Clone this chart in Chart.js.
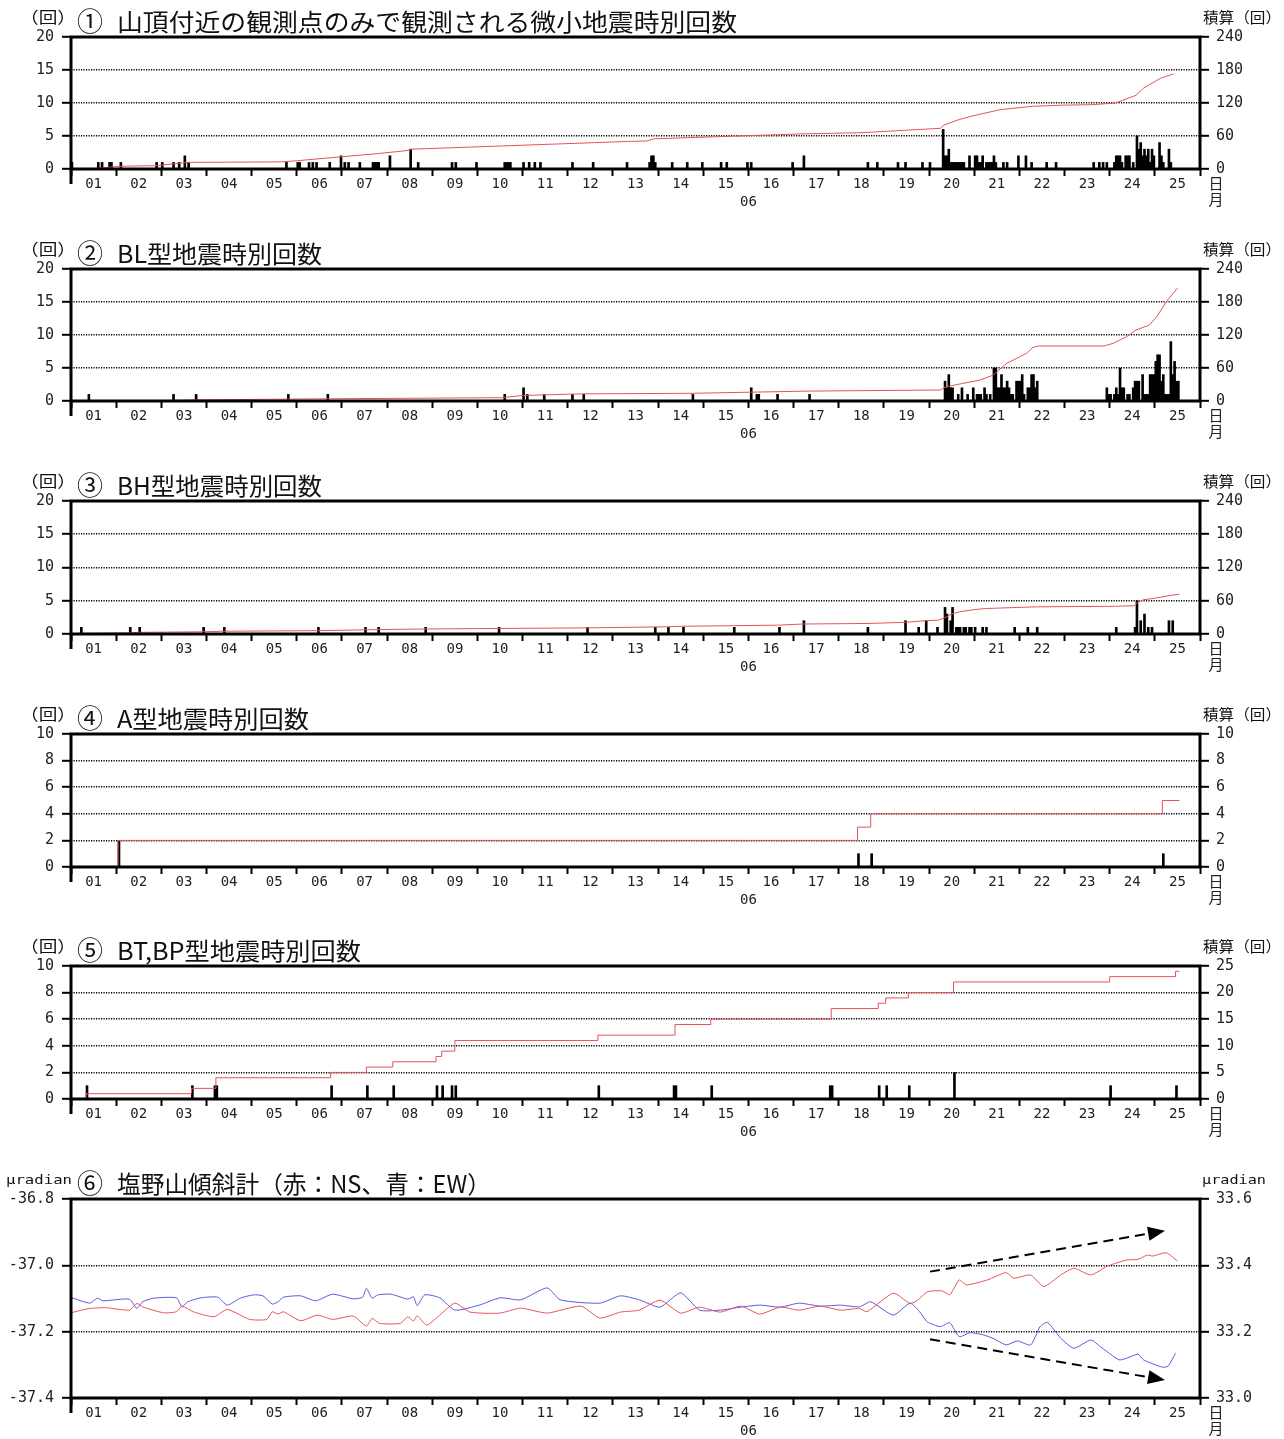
<!DOCTYPE html>
<html>
<head>
<meta charset="utf-8">
<script src="https://cdn.jsdelivr.net/npm/chart.js@4.4.1/dist/chart.umd.min.js"></script>
<style>
  html, body { margin: 0; padding: 0; background: #fff; }
  body { position: relative; width: 1284px; height: 1439px; overflow: hidden; font-family: "Noto Sans CJK JP", sans-serif; }
  canvas { position: absolute; left: 0; }
  .lbl { position: absolute; white-space: nowrap; color: #111; }
</style>
</head>
<body>
<script>
// ---- axis labels -------------------------------------------------------
const DAY_LABELS = ['01','02','03','04','05','06','07','08','09','10','11','12','13',
                    '14','15','16','17','18','19','20','21','22','23','24','25'];
const MONTH_LABEL = '06';
const MONTH_LABEL_HOUR = 360;

const TITLES = ['山頂付近の観測点のみで観測される微小地震時別回数', 'BL型地震時別回数', 'BH型地震時別回数',
                'A型地震時別回数', 'BT,BP型地震時別回数', '塩野山傾斜計（赤：NS、青：EW）'];
const TITLE_NUMS = ['①','②','③','④','⑤','⑥'];

const COUNT_TICKS_20 = [0, 5, 10, 15, 20];
const CUM_TICKS_240 = [0, 60, 120, 180, 240];
const COUNT_TICKS_10 = [0, 2, 4, 6, 8, 10];
const CUM_TICKS_10 = [0, 2, 4, 6, 8, 10];
const CUM_TICKS_25 = [0, 5, 10, 15, 20, 25];
const TILT_NS_TICKS = [-37.4, -37.2, -37.0, -36.8];
const TILT_EW_TICKS = [33.0, 33.2, 33.4, 33.6];

// ---- hourly counts: [hour since 1st 00:00, count] --------------------
const summitHourly = [
  [0,1],[14,1],[16,1],[20,1],[21,1],[26,1],[45,1],[48,1],[54,1],[57,1],[60,2],[62,1],
  [114,1],[120,1],[121,1],[126,1],[128,1],[130,1],[137,1],[143,2],[145,1],[147,1],[153,1],
  [160,1],[161,1],[162,1],[163,1],[169,2],[180,3],[184,1],[202,1],[204,1],[215,1],
  [230,1],[231,1],[232,1],[233,1],[240,1],[243,1],[246,1],[249,1],[266,1],[277,1],[295,1],
  [307,1],[308,2],[309,2],[310,1],[319,1],[327,1],[335,1],[345,1],[348,1],[359,1],[361,1],
  [383,1],[389,2],[423,1],[428,1],[439,1],[443,1],[452,1],[456,1],
  [463,6],[464,2],[465,2],[466,3],[467,1],[468,1],[469,1],[470,1],[471,1],[472,1],[473,1],[474,1],
  [477,2],[480,2],[481,2],[482,1],[483,1],[484,2],[486,1],[487,1],[488,1],[489,1],[490,2],[491,1],
  [495,1],[497,1],[503,2],[507,2],[510,1],[518,1],[523,1],
  [543,1],[546,1],[548,1],[550,1],[554,1],[555,2],[556,2],[557,2],[558,1],[560,2],[561,2],[562,2],
  [564,1],[566,5],[567,3],[568,4],[569,2],[570,3],[571,2],[572,3],[573,1],[574,3],[575,2],
  [578,4],[579,2],[580,1],[583,3],[584,1]
];
const summitTotal = [
  [0,0],[14,1],[26,5],[45,6],[62,12],[112,13],[120,15],[143,22],[163,28],[180,34],[181,36],
  [230,42],[295,50],[306,51],[310,55],[390,64],[420,66],[462,74],[464,80],[472,90],[481,98],
  [494,108],[511,114],[526,116],[543,117],[555,120],[566,134],[570,147],[579,165],[586,173]
];

const blHourly = [
  [9,1],[54,1],[66,1],[115,1],[136,1],[230,1],[240,2],[242,1],[251,1],[266,1],[272,1],
  [330,1],[361,2],[364,1],[365,1],[375,1],[392,1],
  [464,3],[465,2],[466,4],[467,2],[468,2],[471,1],[473,2],[476,1],[479,2],[481,1],[482,1],[483,1],
  [485,2],[486,1],[488,1],[490,5],[491,5],[492,2],[493,2],[494,4],[495,2],[496,2],[497,3],[498,2],
  [499,1],[500,1],[502,3],[503,3],[504,3],[505,4],[506,1],[508,2],[509,2],[510,4],[511,4],[512,2],[513,3],
  [550,2],[551,1],[552,1],[554,1],[555,2],[556,1],[557,5],[558,2],[559,2],[561,1],[562,1],
  [564,2],[565,3],[566,3],[567,3],[569,4],[570,1],[571,1],[572,1],[573,4],[574,4],[575,4],
  [576,6],[577,7],[578,7],[579,3],[580,4],[581,1],[582,1],[583,1],[584,9],[585,4],[586,6],[587,3],[588,3]
];
const blTotal = [
  [0,0],[53,1],[66,2],[135,4],[229,6],[240,10],[271,13],[330,14],[361,16],[392,18],[462,20],
  [465,26],[474,32],[483,38],[490,47],[497,68],[504,80],[508,87],[511,97],[514,100],[549,100],
  [554,105],[561,117],[566,129],[573,138],[577,153],[582,180],[588,205]
];

const bhHourly = [
  [5,1],[31,1],[36,1],[70,1],[81,1],[131,1],[156,1],[163,1],[188,1],[227,1],[274,1],
  [310,1],[317,1],[325,1],[352,1],[376,1],[389,2],[423,1],[443,2],[450,1],[454,2],[460,1],
  [464,4],[465,3],[467,2],[468,4],[470,1],[471,1],[472,1],[474,1],[475,1],[477,1],[478,1],[480,1],
  [484,1],[486,1],[501,1],[508,1],[513,1],[555,1],[565,1],[566,5],[568,2],[570,3],[572,1],[574,1],
  [583,2],[585,2]
];
const bhTotal = [
  [0,0],[5,1],[31,2],[36,3],[70,4],[81,5],[131,6],[163,8],[188,9],[227,10],[274,11],[317,13],
  [325,14],[352,15],[376,16],[389,18],[423,19],[443,21],[454,24],[461,25],[464,29],[468,36],
  [472,40],[480,44],[486,46],[513,49],[555,50],[565,51],[567,57],[570,62],[575,64],[585,70],[589,72]
];

const aHourly = [[25,2],[418,1],[425,1],[580,1]];
const aTotal = [[0,0],[25,2],[418,3],[425,4],[580,5],[589,5]];

const btbpHourly = [
  [8,1],[64,1],[76,1],[77,1],[138,1],[157,1],[171,1],[194,1],[197,1],[202,1],[204,1],
  [280,1],[320,1],[321,1],[340,1],[403,1],[404,1],[429,1],[433,1],[445,1],[469,2],[552,1],[587,1]
];
const btbpTotal = [
  [0,0],[8,1],[64,2],[77,4],[138,5],[157,6],[171,7],[194,8],[197,9],[204,11],[280,12],[321,14],
  [340,15],[404,17],[429,18],[433,19],[445,20],[469,22],[552,23],[587,24],[589,24]
];

// ---- tiltmeter (μradian) ---------------------------------------------
const tiltNS = [
  [0,-37.143],[10,-37.130],[19,-37.128],[31,-37.135],[35,-37.115],[38,-37.125],[49,-37.143],
  [56,-37.140],[59,-37.123],[65,-37.140],[76,-37.155],[83,-37.133],[95,-37.163],[104,-37.163],
  [107,-37.140],[110,-37.147],[113,-37.140],[122,-37.167],[131,-37.150],[139,-37.163],[150,-37.153],
  [157,-37.183],[160,-37.160],[164,-37.175],[175,-37.175],[179,-37.155],[182,-37.168],[184,-37.152],
  [189,-37.180],[196,-37.150],[204,-37.114],[212,-37.141],[228,-37.144],[239,-37.129],[253,-37.144],
  [271,-37.123],[281,-37.159],[292,-37.141],[302,-37.135],[313,-37.105],[324,-37.144],[334,-37.126],
  [345,-37.141],[356,-37.123],[366,-37.147],[377,-37.126],[387,-37.135],[398,-37.123],[409,-37.135],
  [419,-37.130],[423,-37.140],[437,-37.084],[446,-37.115],[450,-37.105],[455,-37.080],[463,-37.077],
  [467,-37.089],[472,-37.044],[476,-37.059],[487,-37.044],[497,-37.022],[501,-37.039],[510,-37.029],
  [517,-37.064],[526,-37.029],[533,-37.009],[542,-37.029],[551,-37.002],[561,-36.984],[567,-36.982],
  [572,-36.969],[575,-36.972],[582,-36.962],[588,-36.987]
];
const tiltEW = [
  [0,33.303],[10,33.286],[14,33.301],[17,33.293],[31,33.298],[35,33.270],[38,33.290],[44,33.301],
  [56,33.302],[59,33.275],[62,33.290],[69,33.302],[78,33.304],[83,33.280],[90,33.301],[97,33.311],
  [102,33.308],[107,33.283],[110,33.290],[113,33.304],[122,33.308],[130,33.293],[139,33.313],
  [150,33.299],[155,33.304],[157,33.331],[160,33.301],[163,33.311],[170,33.313],[179,33.298],
  [182,33.305],[184,33.278],[188,33.311],[196,33.302],[204,33.265],[217,33.280],[228,33.302],
  [239,33.296],[253,33.332],[260,33.296],[281,33.286],[292,33.308],[302,33.296],[313,33.274],
  [324,33.317],[334,33.265],[345,33.265],[356,33.274],[366,33.280],[377,33.274],[387,33.286],
  [398,33.277],[409,33.280],[419,33.275],[425,33.290],[437,33.250],[446,33.286],[451,33.260],
  [455,33.230],[462,33.215],[467,33.227],[472,33.185],[478,33.197],[485,33.190],[490,33.180],
  [497,33.160],[503,33.172],[510,33.160],[515,33.215],[519,33.228],[526,33.180],[533,33.150],
  [542,33.175],[547,33.155],[557,33.115],[561,33.120],[567,33.132],[570,33.115],[580,33.093],
  [583,33.096],[587,33.135]
];
// trend arrows drawn over the tilt panel, in NS-axis units: [[start], [tip]]
const tiltTrendArrows = [
  [[456.5, -37.019], [581.4, -36.896]],
  [[456.5, -37.223], [581.4, -37.346]]
];

// ---- layout ------------------------------------------------------------
const PAGE_W = 1284;
const PANEL_TOPS = [37, 269, 501, 734, 966, 1199];
const PANEL_HEIGHTS = [132, 132, 133, 133, 133, 199];
const TITLE_WIDTHS = [620, 205, 205, 192, 244, 374];
const PLOT_LEFT = 71, PLOT_RIGHT = 1200;
const PAD_TOP = 20, AXIS_H = 45;

const RED = 'rgb(228,84,92)';
const BLUE = 'rgb(88,88,222)';
const MONO = '"DejaVu Sans Mono", monospace';
const JP = '"Noto Sans CJK JP", sans-serif';

Chart.defaults.font.family = MONO;
Chart.defaults.color = '#222';

function addText(txt, x, cy, fs, family, targetW, anchor) {
  const d = document.createElement('div');
  d.className = 'lbl';
  d.textContent = txt;
  d.style.fontFamily = family;
  d.style.fontSize = fs + 'px';
  d.style.lineHeight = fs + 'px';
  d.style.top = (cy - 0.556 * fs) + 'px';
  d.style.left = '0px';
  document.body.appendChild(d);
  const w = d.getBoundingClientRect().width;
  const s = targetW ? targetW / w : 1;
  if (anchor === 'right') {
    d.style.left = (x - w) + 'px';
    d.style.transformOrigin = '100% 0';
  } else {
    d.style.left = x + 'px';
    d.style.transformOrigin = '0 0';
  }
  d.style.transform = 'scaleX(' + s + ')';
}

// frame, month label and 日/月 marker on every panel
const decoPlugin = {
  id: 'deco',
  afterDatasetsDraw(chart) {
    const { ctx, chartArea: a } = chart;
    ctx.save();
    ctx.strokeStyle = '#000';
    ctx.lineWidth = 3;
    ctx.strokeRect(a.left, a.top, a.right - a.left, a.bottom - a.top);
    ctx.beginPath();
    ctx.moveTo(a.left, a.bottom);
    ctx.lineTo(a.left, a.bottom + 15);
    ctx.stroke();
    ctx.fillStyle = '#222';
    ctx.textAlign = 'center';
    ctx.textBaseline = 'middle';
    ctx.font = '14px ' + MONO;
    ctx.fillText(MONTH_LABEL, chart.scales.x.getPixelForValue(MONTH_LABEL_HOUR), a.bottom + 33);
    ctx.font = '15px ' + JP;
    ctx.fillText('日', a.right + 16, a.bottom + 14);
    ctx.fillText('月', a.right + 16, a.bottom + 30);
    ctx.restore();
  }
};

// dashed trend arrows on the tilt panel
const arrowPlugin = {
  id: 'trendArrows',
  afterDatasetsDraw(chart) {
    const { ctx } = chart;
    const xs = chart.scales.x, ys = chart.scales.y;
    ctx.save();
    ctx.strokeStyle = '#000';
    ctx.fillStyle = '#000';
    ctx.lineWidth = 2;
    tiltTrendArrows.forEach(([[h0, v0], [h1, v1]]) => {
      const x0 = xs.getPixelForValue(h0), y0 = ys.getPixelForValue(v0);
      const x1 = xs.getPixelForValue(h1), y1 = ys.getPixelForValue(v1);
      const ang = Math.atan2(y1 - y0, x1 - x0);
      const L = 17, W = 7;
      const bx = x1 - L * Math.cos(ang), by = y1 - L * Math.sin(ang);
      ctx.setLineDash([10, 6]);
      ctx.beginPath();
      ctx.moveTo(x0, y0);
      ctx.lineTo(bx, by);
      ctx.stroke();
      ctx.setLineDash([]);
      ctx.beginPath();
      ctx.moveTo(x1, y1);
      ctx.lineTo(bx + W * Math.sin(ang), by - W * Math.cos(ang));
      ctx.lineTo(bx - W * Math.sin(ang), by + W * Math.cos(ang));
      ctx.closePath();
      ctx.fill();
    });
    ctx.restore();
  }
};

function xScale() {
  return {
    type: 'linear',
    min: 0,
    max: DAY_LABELS.length * 24,
    offset: false,
    afterBuildTicks: s => { s.ticks = DAY_LABELS.concat(['']).map((_, i) => ({ value: i * 24 })); },
    afterFit: s => { s.height = AXIS_H; },
    ticks: {
      autoSkip: false, maxRotation: 0, minRotation: 0, labelOffset: 22.6, padding: 0,
      color: '#222', font: { family: MONO, size: 14 },
      callback: (v, i) => (i < DAY_LABELS.length ? DAY_LABELS[i] : '')
    },
    grid: { offset: false, drawOnChartArea: false, drawTicks: true, tickLength: 7, tickWidth: 2, tickColor: '#000' },
    border: { display: false }
  };
}

function yScale(position, tickValues, fmt, withGrid) {
  const min = tickValues[0], max = tickValues[tickValues.length - 1];
  return {
    type: 'linear',
    position,
    min, max,
    afterBuildTicks: s => { s.ticks = tickValues.map(v => ({ value: v })); },
    afterFit: s => { s.width = position === 'left' ? PLOT_LEFT : PAGE_W - PLOT_RIGHT; },
    ticks: { padding: position === 'left' ? 8 : 7, color: '#222', font: { family: MONO, size: 15 }, callback: v => fmt(v) },
    grid: {
      drawOnChartArea: withGrid, drawTicks: true, tickLength: 9, tickWidth: 2, tickColor: '#000', lineWidth: 1.6,
      color: c => (withGrid && c.tick && c.tick.value > min + 1e-9 && c.tick.value < max - 1e-9) ? '#000' : 'rgba(0,0,0,0)'
    },
    border: { display: false, dash: [1.2, 1.3] }
  };
}

function makeCanvas(i) {
  const c = document.createElement('canvas');
  const h = PAD_TOP + PANEL_HEIGHTS[i] + AXIS_H;
  c.width = PAGE_W;
  c.height = h;
  c.style.top = (PANEL_TOPS[i] - PAD_TOP) + 'px';
  c.style.width = PAGE_W + 'px';
  c.style.height = h + 'px';
  document.body.appendChild(c);
  return c;
}

const toXY = arr => arr.map(([x, y]) => ({ x, y }));
const intFmt = v => String(Math.round(v));
const decFmt = v => v.toFixed(1);

function countPanel(i, hourly, total, leftTicks, rightTicks, stepped) {
  new Chart(makeCanvas(i), {
    type: 'bar',
    data: {
      datasets: [
        {
          type: 'line', data: toXY(total), yAxisID: 'y2', borderColor: RED, borderWidth: 1,
          pointRadius: 0, tension: 0, stepped: stepped ? 'before' : false, order: 0
        },
        {
          type: 'bar', data: toXY(hourly.map(([h, n]) => [h + 0.5, n])), yAxisID: 'y',
          backgroundColor: '#000', borderWidth: 0, barThickness: 2, order: 1
        }
      ]
    },
    options: {
      responsive: false, animation: false, devicePixelRatio: 1,
      layout: { padding: { top: PAD_TOP, left: 0, right: 0, bottom: 0 } },
      plugins: { legend: { display: false }, tooltip: { enabled: false } },
      scales: {
        x: xScale(),
        y: yScale('left', leftTicks, intFmt, true),
        y2: yScale('right', rightTicks, intFmt, false)
      }
    },
    plugins: [decoPlugin]
  });
}

countPanel(0, summitHourly, summitTotal, COUNT_TICKS_20, CUM_TICKS_240, false);
countPanel(1, blHourly, blTotal, COUNT_TICKS_20, CUM_TICKS_240, false);
countPanel(2, bhHourly, bhTotal, COUNT_TICKS_20, CUM_TICKS_240, false);
countPanel(3, aHourly, aTotal, COUNT_TICKS_10, CUM_TICKS_10, true);
countPanel(4, btbpHourly, btbpTotal, COUNT_TICKS_10, CUM_TICKS_25, true);

new Chart(makeCanvas(5), {
  type: 'line',
  data: {
    datasets: [
      { data: toXY(tiltNS), yAxisID: 'y', borderColor: RED, borderWidth: 1, pointRadius: 0, tension: 0.2 },
      { data: toXY(tiltEW), yAxisID: 'y2', borderColor: BLUE, borderWidth: 1, pointRadius: 0, tension: 0.2 }
    ]
  },
  options: {
    responsive: false, animation: false, devicePixelRatio: 1,
    layout: { padding: { top: PAD_TOP, left: 0, right: 0, bottom: 0 } },
    plugins: { legend: { display: false }, tooltip: { enabled: false } },
    scales: {
      x: xScale(),
      y: yScale('left', TILT_NS_TICKS, decFmt, true),
      y2: yScale('right', TILT_EW_TICKS, decFmt, false)
    }
  },
  plugins: [decoPlugin, arrowPlugin]
});

// titles and unit captions
PANEL_TOPS.forEach((top, i) => {
  addText(TITLE_NUMS[i], 77, top - 16, 26, JP, 0, 'left');
  addText(TITLES[i], 117, top - 15, 24, JP, TITLE_WIDTHS[i], 'left');
  if (i < 5) {
    addText('（回）', 20, top - 20, 16, JP, 56, 'left');
    addText('積算（回）', 1281, top - 20, 15, JP, 78, 'right');
  } else {
    addText('μradian', 6, top - 19, 13, MONO, 66, 'left');
    addText('μradian', 1202, top - 19, 13, MONO, 64, 'left');
  }
});
</script>
</body>
</html>
